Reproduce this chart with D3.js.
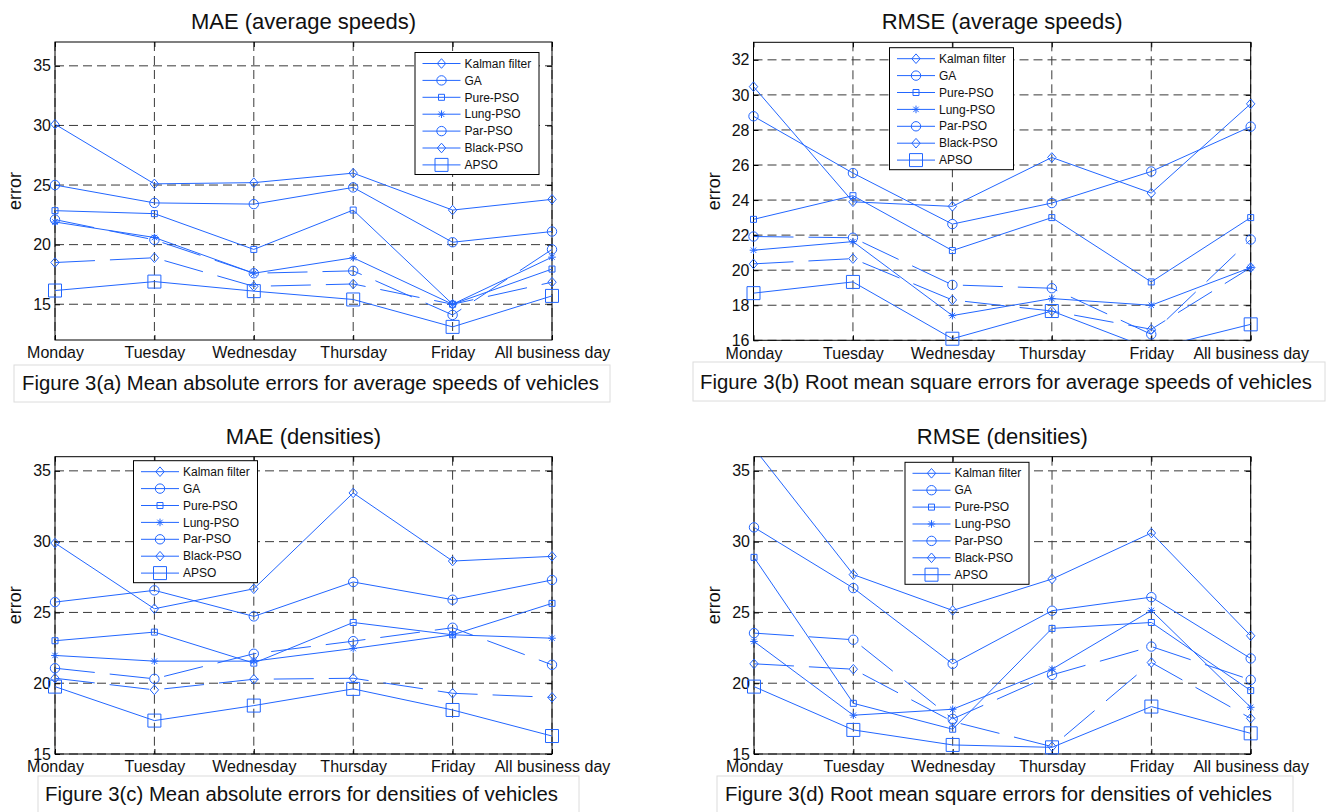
<!DOCTYPE html>
<html>
<head>
<meta charset="utf-8">
<script src="https://cdn.jsdelivr.net/npm/d3@7"></script>
<style>
  body { margin: 0; background: #fff; }
  text { font-family: "Liberation Sans", Arial, Helvetica, sans-serif; }
</style>
</head>
<body>
<div id="chart"></div>
<script>
(function() {

var days = ["Monday", "Tuesday", "Wednesday", "Thursday", "Friday", "All business day"];
var methods = ["Kalman filter", "GA", "Pure-PSO", "Lung-PSO", "Par-PSO", "Black-PSO", "APSO"];

// rows follow the order of methods
var maeSpeed = [
    [30.1, 25.1, 25.2, 26.0, 22.9, 23.8],
    [25.0, 23.5, 23.4, 24.8, 20.2, 21.1],
    [22.85, 22.6, 19.6, 22.9, 15.0, 17.95],
    [21.9, 20.6, 17.6, 18.9, 15.0, 18.95],
    [22.1, 20.4, 17.6, 17.8, 14.1, 19.6],
    [18.5, 18.9, 16.5, 16.7, 15.0, 16.85],
    [16.15, 16.9, 16.1, 15.4, 13.1, 15.7]
];
var rmseSpeed = [
    [30.47, 23.9, 23.64, 26.43, 24.4, 29.49],
    [28.78, 25.54, 22.63, 23.83, 25.63, 28.19],
    [22.9, 24.25, 21.12, 23.0, 19.33, 23.0],
    [21.14, 21.63, 17.41, 18.38, 18.0, 20.15],
    [21.92, 21.85, 19.16, 18.97, 16.34, 21.75],
    [20.36, 20.66, 18.3, 17.67, 16.63, 20.15],
    [18.69, 19.33, 16.09, 17.67, 15.5, 16.91]
];
var maeDensity = [
    [29.9, 25.26, 26.67, 33.44, 28.63, 28.96],
    [25.73, 26.56, 24.72, 27.15, 25.9, 27.29],
    [23.0, 23.61, 21.42, 24.29, 23.42, 25.64],
    [21.96, 21.56, 21.56, 22.45, 23.42, 23.18],
    [21.06, 20.31, 22.08, 22.97, 23.92, 21.3],
    [20.35, 19.53, 20.28, 20.35, 19.29, 19.0],
    [19.76, 17.36, 18.42, 19.6, 18.11, 16.27]
];
var rmseDensity = [
    [36.6, 27.67, 25.14, 27.36, 30.61, 23.35],
    [31.01, 26.72, 21.37, 25.12, 26.08, 21.75],
    [28.89, 18.58, 16.75, 23.87, 24.29, 19.48],
    [22.95, 17.74, 18.16, 20.99, 25.14, 18.3],
    [23.54, 23.07, 17.48, 20.59, 22.59, 20.24],
    [21.37, 20.99, 17.29, 15.52, 21.46, 17.52],
    [19.76, 16.7, 15.64, 15.47, 18.35, 16.46]
];

var ticksA = [15, 20, 25, 30, 35];
var ticksB = [16, 18, 20, 22, 24, 26, 28, 30, 32];
var ticksCD = [15, 20, 25, 30, 35];

var titles = ["MAE (average speeds)", "RMSE (average speeds)", "MAE (densities)", "RMSE (densities)"];
var captions = [
    "Figure 3(a) Mean absolute errors for average speeds of vehicles",
    "Figure 3(b) Root mean square errors for average speeds of vehicles",
    "Figure 3(c) Mean absolute errors for densities of vehicles",
    "Figure 3(d) Root mean square errors for densities of vehicles"
];

// marker style per method
var shapes = ["diamond", "circle", "square", "star", "circle", "diamond", "bigsquare"];
var dashed = [false, false, false, false, true, true, false];
var blue = "#2266ff";

var panels = [
    {data: maeSpeed, ticks: ticksA, domain: [12, 37], box: [55, 42, 552, 340],
     legend: [415, 52.5], cap: [14, 365, 596, 37, 22, 390, 577]},
    {data: rmseSpeed, ticks: ticksB, domain: [16, 33], box: [753.5, 42.3, 1250.7, 340.3],
     legend: [889.5, 47.7], cap: [693, 362, 632, 39, 700, 389, 612]},
    {data: maeDensity, ticks: ticksCD, domain: [15, 36], box: [55, 456.7, 552, 754],
     legend: [133.5, 460.7], cap: [38, 776, 541, 45, 45, 801, 513]},
    {data: rmseDensity, ticks: ticksCD, domain: [15, 36], box: [754, 456.7, 1250.7, 754],
     legend: [905, 462.3], cap: [717, 776, 576, 45, 725, 801, 547]}
];

var svg = d3.select("#chart").append("svg")
    .attr("width", 1331)
    .attr("height", 812);

svg.append("rect").attr("width", 1331).attr("height", 812).attr("fill", "#fff");

var capLayer = svg.append("g");

panels.forEach(function(p, i) {
    drawPanel(p, i);
});

function markerPath(shape) {
    if (shape == "diamond") return "M0,-4.8L4.2,0L0,4.8L-4.2,0Z";
    if (shape == "square") return "M-3,-3H3V3H-3Z";
    if (shape == "bigsquare") return "M-6.5,-6.5H6.5V6.5H-6.5Z";
    if (shape == "star") return "M-3.8,0H3.8M0,-3.8V3.8M-2.7,-2.7L2.7,2.7M-2.7,2.7L2.7,-2.7";
    return d3.arc()({innerRadius: 0, outerRadius: 4.7, startAngle: 0, endAngle: 2 * Math.PI});
}

function drawPanel(p, idx) {
    var left = p.box[0], top = p.box[1], right = p.box[2], bottom = p.box[3];

    var x = d3.scalePoint().domain(days).range([left, right]).padding(0);
    var y = d3.scaleLinear().domain(p.domain).range([bottom, top]);

    // caption box (under everything else)
    var c = p.cap;
    capLayer.append("rect")
        .attr("x", c[0]).attr("y", c[1])
        .attr("width", c[2]).attr("height", c[3])
        .attr("fill", "#fff").attr("stroke", "#dcdcdc");
    capLayer.append("text")
        .attr("x", c[4]).attr("y", c[5])
        .attr("font-size", 20)
        .attr("fill", "#111")
        .attr("textLength", c[6])
        .attr("lengthAdjust", "spacingAndGlyphs")
        .text(captions[idx]);

    var g = svg.append("g");

    // dashed grid
    g.append("g")
        .selectAll("line")
        .data(p.ticks)
        .join("line")
        .attr("x1", left).attr("x2", right)
        .attr("y1", d => y(d)).attr("y2", d => y(d))
        .attr("stroke", "#3a3a3a")
        .attr("stroke-dasharray", "9,5");
    g.append("g")
        .selectAll("line")
        .data(days)
        .join("line")
        .attr("x1", d => x(d)).attr("x2", d => x(d))
        .attr("y1", top).attr("y2", bottom)
        .attr("stroke", "#3a3a3a")
        .attr("stroke-dasharray", "9,5");

    // axes with inward ticks
    var axL = g.append("g")
        .attr("transform", `translate(${left},0)`)
        .call(d3.axisLeft(y).tickValues(p.ticks).tickSize(-5).tickSizeOuter(0).tickPadding(4));
    var axR = g.append("g")
        .attr("transform", `translate(${right},0)`)
        .call(d3.axisRight(y).tickValues(p.ticks).tickSize(-5).tickSizeOuter(0).tickFormat(""));
    var axB = g.append("g")
        .attr("transform", `translate(0,${bottom})`)
        .call(d3.axisBottom(x).tickSize(-5).tickSizeOuter(0).tickPadding(7));
    var axT = g.append("g")
        .attr("transform", `translate(0,${top})`)
        .call(d3.axisTop(x).tickSize(-5).tickSizeOuter(0).tickFormat(""));

    [axL, axR, axB, axT].forEach(function(a) {
        a.attr("font-family", null).attr("font-size", 16);
        a.selectAll("path.domain").remove();
        a.selectAll(".tick line").attr("stroke", "#000");
        a.selectAll("text").attr("fill", "#111");
    });

    g.append("rect")
        .attr("x", left).attr("y", top)
        .attr("width", right - left).attr("height", bottom - top)
        .attr("fill", "none").attr("stroke", "#000");

    // series
    var clipId = "clip" + idx;
    svg.append("clipPath").attr("id", clipId)
        .append("rect")
        .attr("x", left).attr("y", top)
        .attr("width", right - left).attr("height", bottom - top);

    var line = d3.line()
        .x((d, j) => x(days[j]))
        .y(d => y(d));

    var series = g.append("g");
    p.data.forEach(function(vals, k) {
        series.append("path")
            .attr("d", line(vals))
            .attr("clip-path", `url(#${clipId})`)
            .attr("fill", "none")
            .attr("stroke", blue)
            .attr("stroke-width", 1)
            .attr("stroke-dasharray", dashed[k] ? "40,15" : null);

        series.selectAll(null)
            .data(vals.map((v, j) => ({v: v, day: days[j]})).filter(d => d.v >= p.domain[0] && d.v <= p.domain[1]))
            .join("path")
            .attr("transform", d => `translate(${x(d.day)},${y(d.v)})`)
            .attr("d", markerPath(shapes[k]))
            .attr("fill", "none")
            .attr("stroke", blue)
            .attr("stroke-width", 1);
    });

    // title and y label
    g.append("text")
        .attr("x", (left + right) / 2)
        .attr("y", top - 13)
        .attr("text-anchor", "middle")
        .attr("font-size", 22)
        .attr("fill", "#111")
        .text(titles[idx]);

    g.append("text")
        .attr("transform", `translate(${left - 34},${(top + bottom) / 2}) rotate(-90)`)
        .attr("text-anchor", "middle")
        .attr("font-size", 18)
        .attr("fill", "#111")
        .text("error");

    // legend
    var lg = g.append("g").attr("transform", `translate(${p.legend[0]},${p.legend[1]})`);
    lg.append("rect")
        .attr("width", 124).attr("height", 122)
        .attr("fill", "#fff").attr("stroke", "#000");
    methods.forEach(function(m, k) {
        var ry = 11 + k * 16.9;
        lg.append("line")
            .attr("x1", 7.5).attr("x2", 45.5)
            .attr("y1", ry).attr("y2", ry)
            .attr("stroke", blue);
        lg.append("path")
            .attr("transform", `translate(26.5,${ry})`)
            .attr("d", markerPath(shapes[k]))
            .attr("fill", "none").attr("stroke", blue);
        lg.append("text")
            .attr("x", 49.5).attr("y", ry)
            .attr("dy", "0.35em")
            .attr("font-size", 12)
            .attr("fill", "#111")
            .text(m);
    });
}

})();
</script>
</body>
</html>
